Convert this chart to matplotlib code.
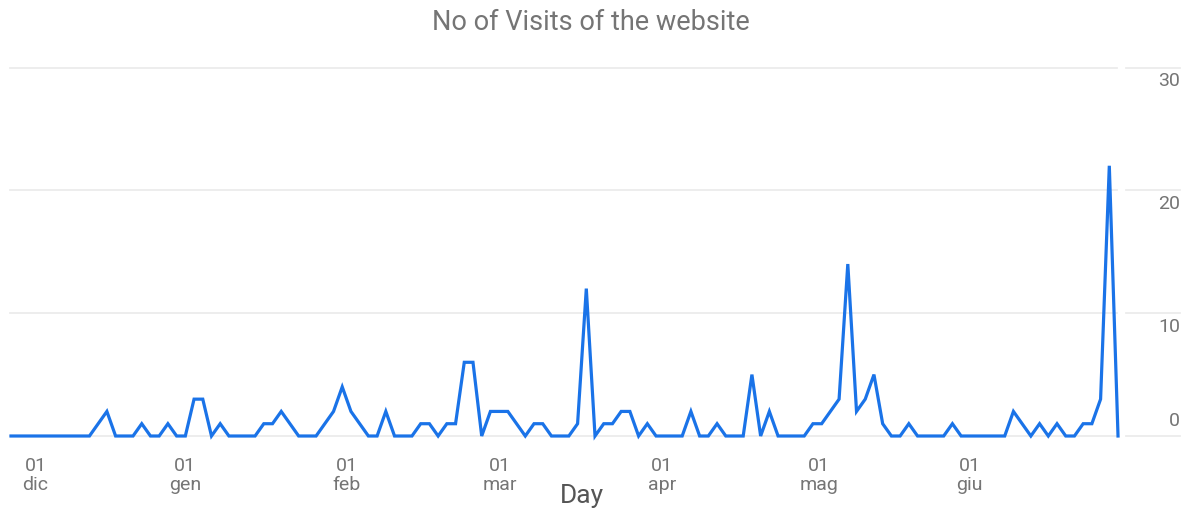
import matplotlib
matplotlib.use("Agg")
import matplotlib.pyplot as plt
import matplotlib.transforms as mtransforms
import numpy as np

# ---- data ----
visits = [0, 0, 0, 0, 0, 0, 0, 0, 0, 0,
          1, 2, 0, 0, 0, 1, 0, 0, 1, 0, 0,
          3, 3, 0, 1, 0, 0, 0, 0, 1, 1, 2, 1, 0, 0, 0, 1, 2, 4, 2, 1, 0, 0,
          2, 0, 0, 0, 1, 1, 0, 1, 1, 6, 6, 0, 2, 2, 2, 1, 0, 1, 1, 0, 0,
          0, 1, 12, 0, 1, 1, 2, 2, 0, 1, 0, 0, 0, 0, 2, 0, 0, 1, 0, 0, 0, 5,
          0, 2, 0, 0, 0, 0, 1, 1, 2, 3, 14, 2, 3, 5, 1, 0, 0, 1, 0,
          0, 0, 0, 1, 0, 0, 0, 0, 0, 0, 2, 1, 0, 1, 0, 1, 0, 0, 1, 1, 3, 22, 0]
month_tick_pos = [2.8, 19.95, 38.5, 56.1, 74.7, 92.7, 110.0]
month_days = ["01", "01", "01", "01", "01", "01", "01"]
month_names = ["dic", "gen", "feb", "mar", "apr", "mag", "giu"]
y_ticks = [0, 10, 20, 30]

x = np.arange(len(visits))

plt.rcParams['font.family'] = ['Roboto', 'DejaVu Sans']

W, H = 1189, 512
fig = plt.figure(figsize=(W / 100, H / 100), dpi=100)

left_px, right_px, top_px, bot_px = 10, 1180, 67.5, 436
ax = fig.add_axes([left_px / W, 1 - bot_px / H, (right_px - left_px) / W, (bot_px - top_px) / H])

step = 8.72
ax.set_xlim(0 - (11 - left_px) / step, (len(visits) - 1) + (right_px - 1118) / step)
ax.set_ylim(0, 30)

for s in ax.spines.values():
    s.set_visible(False)

# gridlines with gap near right labels
gap_a = (1117 - left_px) / (right_px - left_px)
gap_b = (1126 - left_px) / (right_px - left_px)
for yv in y_ticks:
    ax.axhline(yv, xmin=0, xmax=gap_a, color="#ececec", lw=1.3, zorder=1, clip_on=False)
    ax.axhline(yv, xmin=gap_b, xmax=1, color="#ececec", lw=1.3, zorder=1, clip_on=False)

ax.plot(x, visits, color="#1a73e8", lw=2.3, solid_joinstyle="miter", zorder=3, clip_on=False)

# y labels on the right
ax.set_yticks([])
for yv in y_ticks:
    dy = 15 if yv == 0 else -14
    tr = mtransforms.offset_copy(ax.get_yaxis_transform(), fig=fig, x=0, y=dy * 72 / 100, units='points')
    ax.text(1.0, yv, str(yv), transform=tr, ha="right", va="center",
            fontsize=14, color="#757575")

# x tick labels
ax.set_xticks(month_tick_pos)
ax.set_xticklabels([f"{d}\n{m}" for d, m in zip(month_days, month_names)],
                   fontsize=14, color="#757575", linespacing=1.05)
ax.tick_params(axis="x", length=0, pad=15)

fig.text(582 / W, 1 - 496 / H, "Day", ha="center", va="center", fontsize=19, color="#555555")
fig.text(591 / W, 1 - 22 / H, "No of Visits of the website", ha="center", va="center",
         fontsize=19.5, color="#757575")

fig.savefig("out.png", dpi=100)
